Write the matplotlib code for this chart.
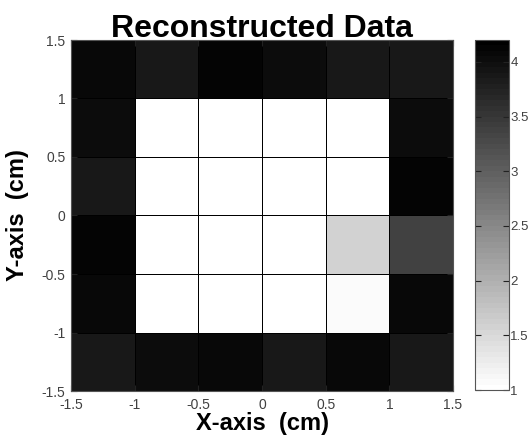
import numpy as np
import matplotlib
matplotlib.use("Agg")
import matplotlib.pyplot as plt

plt.rcParams['font.family'] = ['Liberation Sans', 'DejaVu Sans']

x_edges = [-1.5, -1.0, -0.5, 0.0, 0.5, 1.0, 1.5]
y_edges = [-1.5, -1.0, -0.5, 0.0, 0.5, 1.0, 1.5]
# rows from bottom (y=-1.5) to top (y=1.5)
values = [
    [3.89, 4.04, 4.07, 3.86, 4.07, 3.89],
    [4.06, 1.00, 1.00, 1.00, 1.06, 4.10],
    [4.12, 1.00, 1.00, 1.00, 1.59, 3.35],
    [3.87, 1.00, 1.00, 1.00, 1.00, 4.11],
    [4.05, 1.00, 1.00, 1.00, 1.00, 4.02],
    [4.07, 3.87, 4.11, 4.05, 3.87, 3.90],
]
x_ticks = [-1.5, -1, -0.5, 0, 0.5, 1, 1.5]
y_ticks = [-1.5, -1, -0.5, 0, 0.5, 1, 1.5]
cbar_ticks = [1, 1.5, 2, 2.5, 3, 3.5, 4]
vmin, vmax = 1.0, 4.2

fig = plt.figure(figsize=(5.3, 4.4), dpi=100)
ax = fig.add_axes([71/530, 49/440, 382/530, 351/440])
cax = fig.add_axes([475/530, 50/440, 34/530, 350/440])

cmap = plt.get_cmap('gray_r', 64)
mesh = ax.pcolormesh(x_edges, y_edges, np.array(values), cmap=cmap, vmin=vmin, vmax=vmax,
                     edgecolors='black', linewidth=0.5)
ax.set_xlim(-1.5, 1.5)
ax.set_ylim(-1.5, 1.5)
ax.set_xticks(x_ticks)
ax.set_yticks(y_ticks)
ax.set_xticklabels([f"{t:g}" for t in x_ticks])
ax.set_yticklabels([f"{t:g}" for t in y_ticks])
ax.tick_params(direction='in', top=True, right=True, length=4, labelsize=10,
               labelcolor='#404040', color='#222222')
ax.tick_params(axis='x', pad=5)
ax.tick_params(axis='y', pad=4)
for s in ax.spines.values():
    s.set_color('#555555')
    s.set_linewidth(0.8)

ax.set_title('Reconstructed Data', fontsize=23, fontweight='bold', pad=2)
ax.set_xlabel('X-axis  (cm)', fontsize=17, fontweight='bold', labelpad=0)
ax.set_ylabel('Y-axis  (cm)', fontsize=17, fontweight='bold', labelpad=9)

cb = fig.colorbar(mesh, cax=cax)
cb.set_ticks(cbar_ticks)
cb.set_ticklabels([f"{t:g}" for t in cbar_ticks])
cax.tick_params(direction='in', left=True, right=True, length=4, labelsize=9.5,
                labelcolor='#404040', color='#222222', pad=1)
cb.outline.set_edgecolor('#555555')
cb.outline.set_linewidth(0.8)

fig.savefig('out.png', dpi=100)
